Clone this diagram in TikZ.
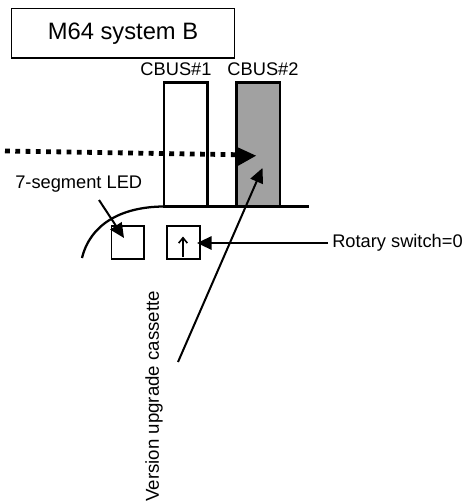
\documentclass[tikz,border=0pt]{standalone}
\usepackage{fontspec}
\setmainfont{Liberation Sans}
\usetikzlibrary{arrows.meta}
\tikzset{
  boxshape/.style={draw=black,line width=1.7pt,inner sep=0pt,anchor=north west},
  smallbox/.style={draw=black,line width=1.2pt,inner sep=0pt,anchor=north west,minimum width=24.5pt,minimum height=24.5pt},
  busbox/.style={boxshape,minimum width=32.8pt,minimum height=92.6pt},
  label/.style={inner sep=0pt,font=\fontsize{13.7pt}{16pt}\selectfont},
  pointer/.style={line width=1.5pt,-{Triangle[length=11pt,width=10pt]}}
}
\begin{document}
\begin{tikzpicture}[x=0.75pt,y=-0.75pt]
\useasboundingbox (0,0) rectangle (473,501);
\node[draw=black,line width=1.1pt,anchor=north west,minimum width=166.9pt,minimum height=36.9pt,inner sep=0pt,font=\fontsize{17.8pt}{20pt}\selectfont] (title) at (11,8) {M64 system B};
\node[label] (cbusa) at (176,69.5) {CBUS\#1};
\node[label] (cbusb) at (263,69.5) {CBUS\#2};
\node[busbox] (busa) at (162.7,81.3) {};
\node[busbox,fill=black!37] (busb) at (235.3,81.3) {};
\coordinate (floorstart) at (163,206.5);
\coordinate (floorend) at (309,206.5);
\coordinate (curvestart) at (82,258);
\draw[line width=1.7pt] (floorstart) -- (floorend);
\draw[line width=1.7pt] (curvestart) .. controls (90,225) and (120,207) .. (floorstart);
\node[smallbox] (led) at (110.7,225.3) {};
\node[smallbox] (switch) at (166.3,225.3) {};
\coordinate (upa) at (183,257);
\coordinate (upb) at (183,236.5);
\draw[line width=1.2pt,-{Straight Barb[length=4pt,width=6.5pt]}] (upa) -- (upb);
\node[label,anchor=west] (ledlabel) at (15,184) {7-segment LED};
\node[label,anchor=west] (rotary) at (332,243) {Rotary switch=0};
\node[label,rotate=90,anchor=west,font=\fontsize{14pt}{16pt}\selectfont] (version) at (154,502) {Version upgrade cassette};
\coordinate (ledtail) at (99,200);
\coordinate (ledtip) at (124,238);
\coordinate (switchtip) at (197,243);
\coordinate (switchtail) at (328,243);
\coordinate (casstail) at (178,362);
\coordinate (casstip) at (262.5,168);
\coordinate (dotstart) at (5,151);
\coordinate (dotend) at (236,154.7);
\draw[pointer] (ledtail) -- (ledtip);
\draw[pointer] (switchtail) -- (switchtip);
\draw[pointer] (casstail) -- (casstip);
\draw[line width=3.6pt,dash pattern=on 3.6pt off 4.1pt] (dotstart) -- (dotend);
\fill (236,146.5) -- (256,155.7) -- (236,167) -- cycle;
\end{tikzpicture}
\end{document}
